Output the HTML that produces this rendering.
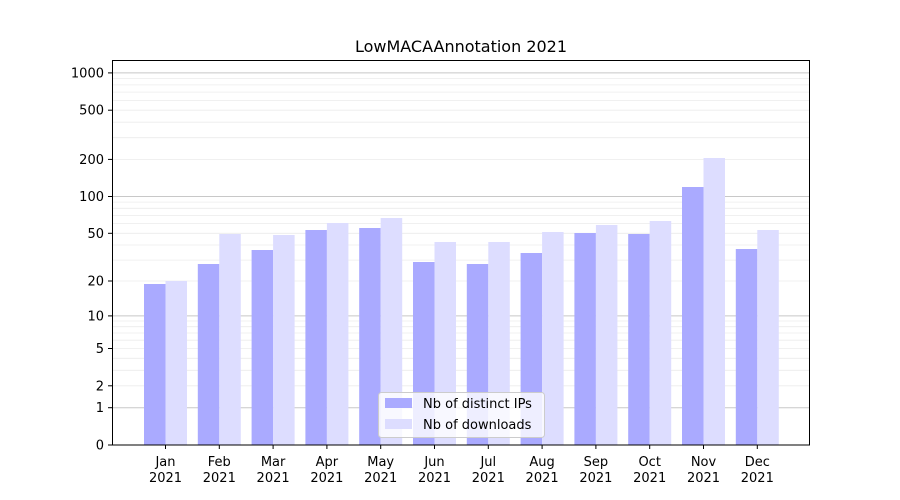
<!DOCTYPE html>
<html><head><meta charset="utf-8"><style>body{margin:0;background:#fff}svg{display:block}text{font-family:"DejaVu Sans","Liberation Sans",sans-serif;font-size:13px;fill:#000}</style></head>
<body>
<svg width="900" height="500" xmlns="http://www.w3.org/2000/svg">
<rect width="900" height="500" fill="#fff"/>
<g stroke="#ececec" stroke-width="0.8">
<line x1="112" x2="810" y1="385.8" y2="385.8"/><line x1="112" x2="810" y1="370.3" y2="370.3"/><line x1="112" x2="810" y1="358.3" y2="358.3"/><line x1="112" x2="810" y1="348.5" y2="348.5"/><line x1="112" x2="810" y1="340.2" y2="340.2"/><line x1="112" x2="810" y1="333" y2="333"/><line x1="112" x2="810" y1="326.7" y2="326.7"/><line x1="112" x2="810" y1="321" y2="321"/>
<line x1="112" x2="810" y1="281" y2="281"/><line x1="112" x2="810" y1="260.1" y2="260.1"/><line x1="112" x2="810" y1="245" y2="245"/><line x1="112" x2="810" y1="233.3" y2="233.3"/><line x1="112" x2="810" y1="223.6" y2="223.6"/><line x1="112" x2="810" y1="215.4" y2="215.4"/><line x1="112" x2="810" y1="208.3" y2="208.3"/><line x1="112" x2="810" y1="202.1" y2="202.1"/>
<line x1="112" x2="810" y1="159.4" y2="159.4"/><line x1="112" x2="810" y1="137.7" y2="137.7"/><line x1="112" x2="810" y1="122.2" y2="122.2"/><line x1="112" x2="810" y1="110.2" y2="110.2"/><line x1="112" x2="810" y1="100.4" y2="100.4"/><line x1="112" x2="810" y1="92.1" y2="92.1"/><line x1="112" x2="810" y1="84.9" y2="84.9"/><line x1="112" x2="810" y1="78.6" y2="78.6"/>
</g>
<g stroke="#c8c8c8" stroke-width="1">
<line x1="112" x2="810" y1="407.7" y2="407.7"/><line x1="112" x2="810" y1="315.9" y2="315.9"/><line x1="112" x2="810" y1="196.5" y2="196.5"/><line x1="112" x2="810" y1="72.9" y2="72.9"/>
</g>
<g>
<rect x="144" y="284" width="21.5" height="161" fill="#aaaaff"/><rect x="165.5" y="281" width="21.5" height="164" fill="#ddddff"/>
<rect x="197.8" y="264" width="21.5" height="181" fill="#aaaaff"/><rect x="219.3" y="234" width="21.5" height="211" fill="#ddddff"/>
<rect x="251.6" y="250" width="21.5" height="195" fill="#aaaaff"/><rect x="273.1" y="235" width="21.5" height="210" fill="#ddddff"/>
<rect x="305.4" y="230" width="21.5" height="215" fill="#aaaaff"/><rect x="326.9" y="223" width="21.5" height="222" fill="#ddddff"/>
<rect x="359.2" y="228" width="21.5" height="217" fill="#aaaaff"/><rect x="380.7" y="218" width="21.5" height="227" fill="#ddddff"/>
<rect x="413" y="262" width="21.5" height="183" fill="#aaaaff"/><rect x="434.5" y="242" width="21.5" height="203" fill="#ddddff"/>
<rect x="466.8" y="264" width="21.5" height="181" fill="#aaaaff"/><rect x="488.3" y="242" width="21.5" height="203" fill="#ddddff"/>
<rect x="520.6" y="253" width="21.5" height="192" fill="#aaaaff"/><rect x="542.1" y="232" width="21.5" height="213" fill="#ddddff"/>
<rect x="574.4" y="233" width="21.5" height="212" fill="#aaaaff"/><rect x="595.9" y="225" width="21.5" height="220" fill="#ddddff"/>
<rect x="628.2" y="234" width="21.5" height="211" fill="#aaaaff"/><rect x="649.7" y="221" width="21.5" height="224" fill="#ddddff"/>
<rect x="682" y="187" width="21.5" height="258" fill="#aaaaff"/><rect x="703.5" y="158" width="21.5" height="287" fill="#ddddff"/>
<rect x="735.8" y="249" width="21.5" height="196" fill="#aaaaff"/><rect x="757.3" y="230" width="21.5" height="215" fill="#ddddff"/>
</g>
<rect x="112.5" y="60.5" width="697" height="384.5" fill="none" stroke="#000" stroke-width="1"/>
<g stroke="#000">
<line x1="165.5" x2="165.5" y1="445" y2="449"/><line x1="219.3" x2="219.3" y1="445" y2="449"/><line x1="273.1" x2="273.1" y1="445" y2="449"/><line x1="326.9" x2="326.9" y1="445" y2="449"/><line x1="380.7" x2="380.7" y1="445" y2="449"/><line x1="434.5" x2="434.5" y1="445" y2="449"/><line x1="488.3" x2="488.3" y1="445" y2="449"/><line x1="542.1" x2="542.1" y1="445" y2="449"/><line x1="595.9" x2="595.9" y1="445" y2="449"/><line x1="649.7" x2="649.7" y1="445" y2="449"/><line x1="703.5" x2="703.5" y1="445" y2="449"/><line x1="757.3" x2="757.3" y1="445" y2="449"/>
<line x1="108" x2="112" y1="445" y2="445"/><line x1="108" x2="112" y1="407.7" y2="407.7"/><line x1="108" x2="112" y1="385.8" y2="385.8"/><line x1="108" x2="112" y1="348.5" y2="348.5"/><line x1="108" x2="112" y1="315.9" y2="315.9"/><line x1="108" x2="112" y1="281" y2="281"/><line x1="108" x2="112" y1="233.3" y2="233.3"/><line x1="108" x2="112" y1="196.5" y2="196.5"/><line x1="108" x2="112" y1="159.4" y2="159.4"/><line x1="108" x2="112" y1="110.2" y2="110.2"/><line x1="108" x2="112" y1="72.9" y2="72.9"/>
</g>
<g text-anchor="middle">
<text x="165.5" y="466">Jan</text><text x="165.5" y="482">2021</text>
<text x="219.3" y="466">Feb</text><text x="219.3" y="482">2021</text>
<text x="273.1" y="466">Mar</text><text x="273.1" y="482">2021</text>
<text x="326.9" y="466">Apr</text><text x="326.9" y="482">2021</text>
<text x="380.7" y="466">May</text><text x="380.7" y="482">2021</text>
<text x="434.5" y="466">Jun</text><text x="434.5" y="482">2021</text>
<text x="488.3" y="466">Jul</text><text x="488.3" y="482">2021</text>
<text x="542.1" y="466">Aug</text><text x="542.1" y="482">2021</text>
<text x="595.9" y="466">Sep</text><text x="595.9" y="482">2021</text>
<text x="649.7" y="466">Oct</text><text x="649.7" y="482">2021</text>
<text x="703.5" y="466">Nov</text><text x="703.5" y="482">2021</text>
<text x="757.3" y="466">Dec</text><text x="757.3" y="482">2021</text>
</g>
<g text-anchor="end">
<text x="104" y="449.5">0</text><text x="104" y="412.2">1</text><text x="104" y="390.3">2</text><text x="104" y="353">5</text><text x="104" y="320.4">10</text><text x="104" y="285.5">20</text><text x="104" y="237.8">50</text><text x="104" y="201">100</text><text x="104" y="163.9">200</text><text x="104" y="114.7">500</text><text x="104" y="77.4">1000</text>
</g>
<text x="461" y="52" text-anchor="middle" style="font-size:16px">LowMACAAnnotation 2021</text>
<rect x="378.5" y="392.5" width="166" height="45" rx="3" fill="#fff" fill-opacity="0.8" stroke="#ccc"/>
<rect x="385" y="398" width="27" height="10" fill="#aaaaff"/>
<text x="423" y="408">Nb of distinct IPs</text>
<rect x="385" y="419" width="27" height="10" fill="#ddddff"/>
<text x="423" y="429">Nb of downloads</text>
</svg>
</body></html>
